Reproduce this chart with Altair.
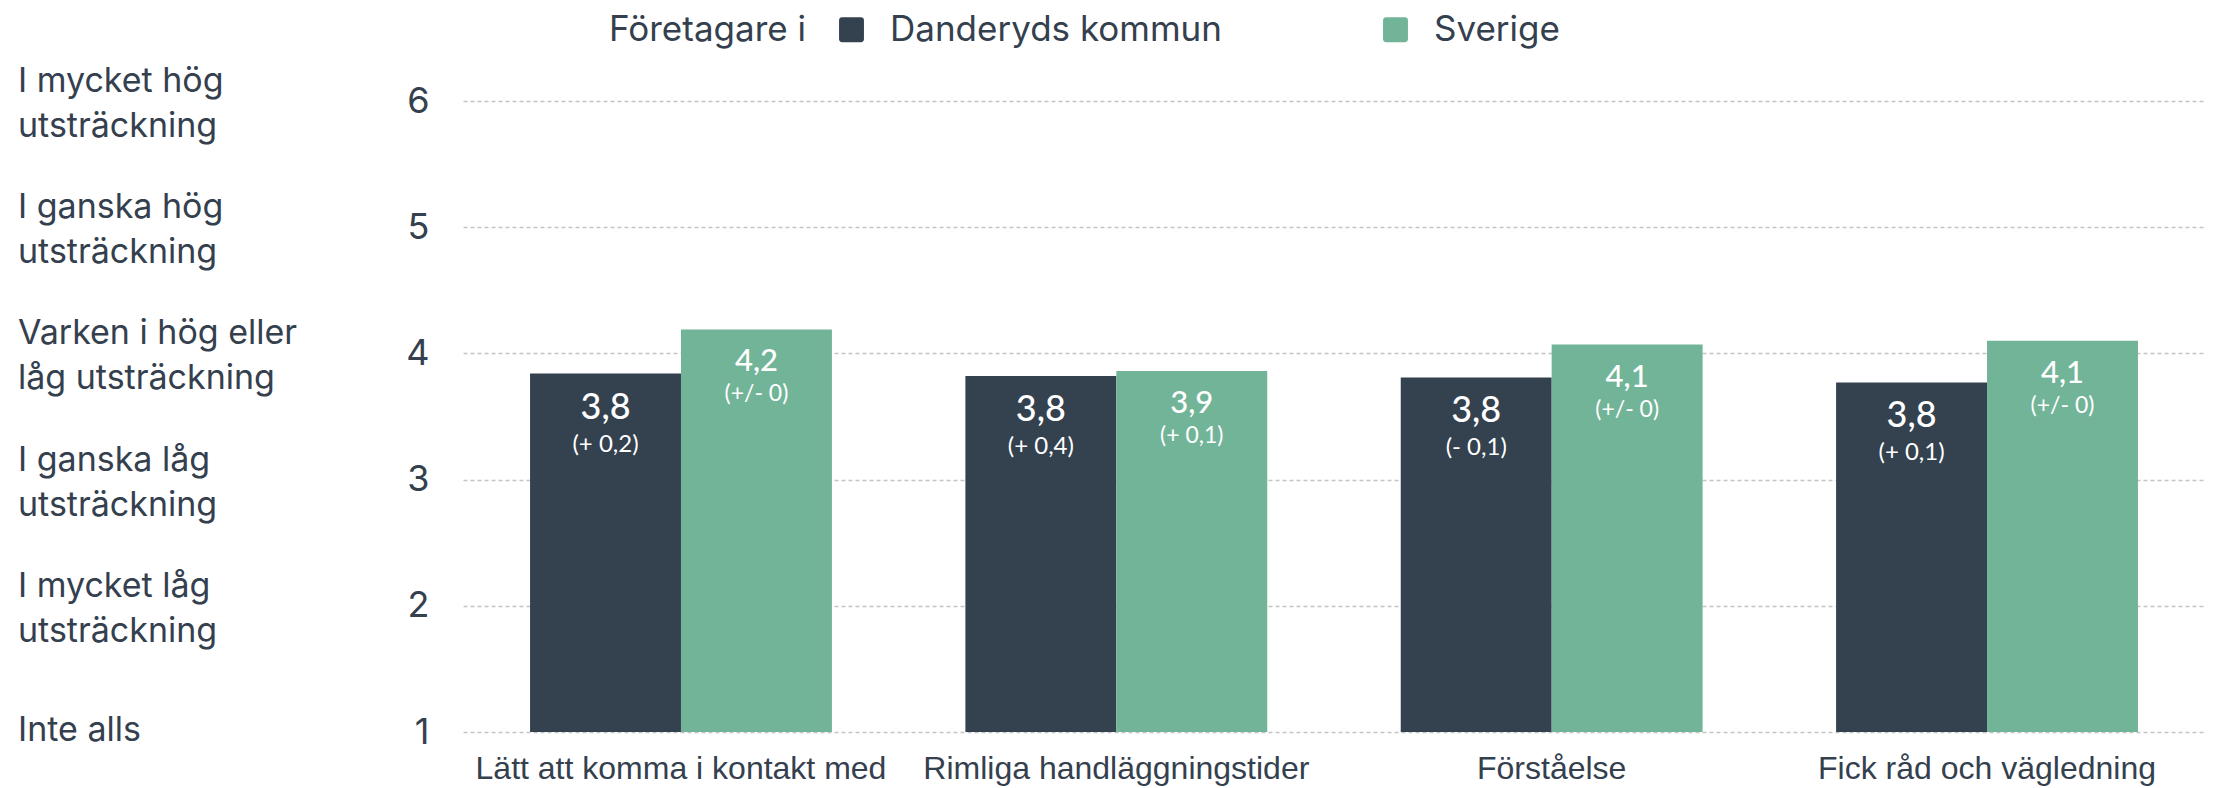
import altair as alt
import pandas as pd

# ---- data ----
categories = ["Lätt att komma i kontakt med", "Rimliga handläggningstider", "Förståelse", "Fick råd och vägledning"]
series = ["Danderyds kommun", "Sverige"]
danderyd_values = [3.84, 3.82, 3.81, 3.77]
sverige_values = [4.19, 3.86, 4.07, 4.10]
danderyd_labels = ["3,8", "3,8", "3,8", "3,8"]
sverige_labels = ["4,2", "3,9", "4,1", "4,1"]
danderyd_changes = ["(+ 0,2)", "(+ 0,4)", "(- 0,1)", "(+ 0,1)"]
sverige_changes = ["(+/- 0)", "(+ 0,1)", "(+/- 0)", "(+/- 0)"]
scale_levels = [1, 2, 3, 4, 5, 6]
scale_texts = [
    "Inte alls",
    "I mycket låg\nutsträckning",
    "I ganska låg\nutsträckning",
    "Varken i hög eller\nlåg utsträckning",
    "I ganska hög\nutsträckning",
    "I mycket hög\nutsträckning",
]

rows = []
for i, c in enumerate(categories):
    rows.append({"category": c, "series": series[0], "value": danderyd_values[i],
                 "label": danderyd_labels[i], "change": danderyd_changes[i]})
    rows.append({"category": c, "series": series[1], "value": sverige_values[i],
                 "label": sverige_labels[i], "change": sverige_changes[i]})
df = pd.DataFrame(rows)
levels_df = pd.DataFrame({"level": scale_levels, "text": scale_texts})

DARK = "#34414f"
GREEN = "#72b498"
TEXT = "#34404e"
ROUNDED = ("M-0.75,-1L0.75,-1Q1,-1 1,-0.75L1,0.75Q1,1 0.75,1L-0.75,1Q-1,1 -1,0.75"
           "L-1,-0.75Q-1,-1 -0.75,-1Z")

y_scale = alt.Scale(domain=[1, 6], zero=False, nice=False)

x_enc = alt.X(
    "category:N", sort=categories,
    scale=alt.Scale(paddingInner=0.3066, paddingOuter=0.154),
    axis=alt.Axis(title=None, labelAngle=0, domain=False, ticks=False,
                  labelFont="Liberation Sans", labelFontSize=32, labelColor=TEXT,
                  labelPadding=21, labelLimit=0),
)
xoff_enc = alt.XOffset("series:N", sort=series, scale=alt.Scale(paddingInner=0, paddingOuter=0))

base = alt.Chart(df)

bars = base.mark_bar().encode(
    x=x_enc,
    xOffset=xoff_enc,
    y=alt.Y("value:Q", scale=y_scale,
            axis=alt.Axis(title=None, values=scale_levels, format="d", domain=False, ticks=False,
                          labelFont="Inter", labelFontSize=36, labelColor=TEXT, labelPadding=34,
                          gridDash=[4, 3], gridColor="#c4c4c4", gridWidth=1.5)),
    y2=alt.datum(1),
    color=alt.Color(
        "series:N", sort=series,
        scale=alt.Scale(domain=series, range=[DARK, GREEN]),
        legend=alt.Legend(
            title="Företagare i", orient="none", legendX=146, legendY=-89,
            direction="horizontal", titleOrient="left",
            titleFont="Inter", titleFontSize=35, titleFontWeight="normal", titleColor=TEXT,
            titlePadding=28, titleLimit=0, labelFont="Inter", labelFontSize=35, labelColor=TEXT,
            labelOffset=21, symbolType=ROUNDED, symbolSize=620, symbolStrokeWidth=0,
            symbolOpacity=1, columnPadding=156, labelLimit=0, padding=0,
        ),
    ),
)

def text_layer(name, field, size, dy, weight):
    return base.transform_filter(alt.datum.series == name).mark_text(
        font="Lato", fontSize=size, fontWeight=weight, color="white",
        baseline="middle", align="center", dy=dy,
    ).encode(
        x=alt.X("category:N", sort=categories),
        xOffset=alt.XOffset("series:N", sort=series),
        y=alt.Y("value:Q", scale=y_scale),
        text=f"{field}:N",
    )

d_val = text_layer(series[0], "label", 36, 34, 500)
d_chg = text_layer(series[0], "change", 24, 71, 400)
s_val = text_layer(series[1], "label", 31, 33, 500)
s_chg = text_layer(series[1], "change", 23, 65, 400)

levels_src = alt.Chart(levels_df)
left_two = levels_src.transform_filter(alt.datum.level > 1).mark_text(
    font="Inter", fontSize=34, color=TEXT, align="left", baseline="middle",
    lineBreak="\n", lineHeight=45, dy=-19,
).encode(
    x=alt.value(-445),
    y=alt.Y("level:Q", scale=y_scale),
    text="text:N",
)
left_one = levels_src.transform_filter(alt.datum.level == 1).mark_text(
    font="Inter", fontSize=34, color=TEXT, align="left", baseline="middle", dy=-1,
).encode(
    x=alt.value(-445),
    y=alt.Y("level:Q", scale=y_scale),
    text="text:N",
)

chart = alt.layer(bars, d_val, d_chg, s_val, s_chg, left_two, left_one).properties(
    width=1742, height=631,
    autosize=alt.AutoSizeParams(type="none"),
    padding={"left": 455, "top": 93, "right": 1, "bottom": 56},
).configure(background="white").configure_view(stroke=None)

chart.save("out.html", embed_options={"renderer": "svg", "actions": False})
